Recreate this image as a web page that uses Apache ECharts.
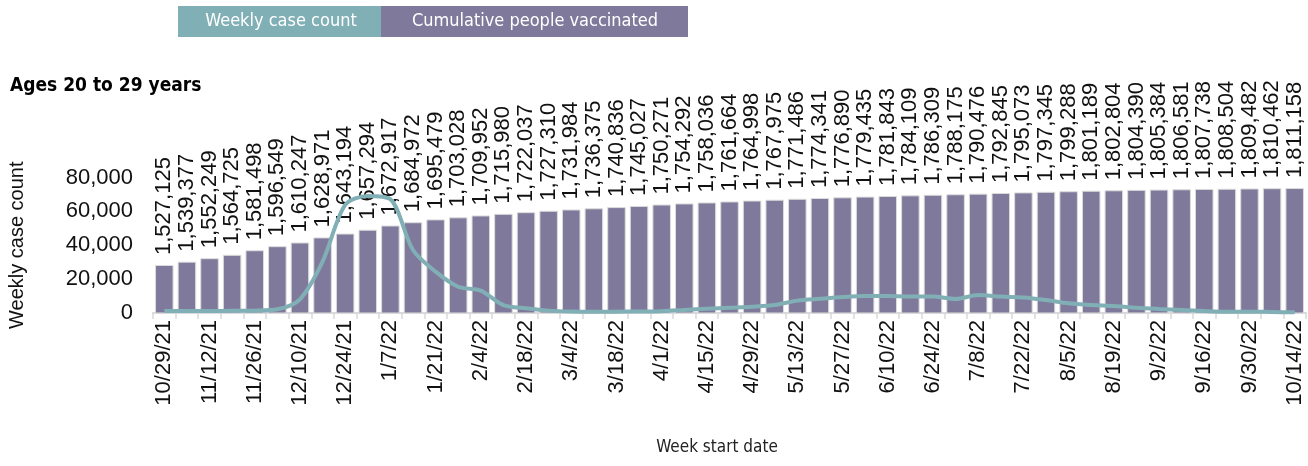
<!DOCTYPE html>
<html>
<head>
<meta charset="utf-8">
<script src="https://cdn.jsdelivr.net/npm/echarts@6/dist/echarts.min.js"></script>
<style>
html,body{margin:0;padding:0;background:#fff;}
#chart{width:1308px;height:466px;}
</style>
</head>
<body>
<div id="chart"></div>
<script>
// week start dates
var weeks = ['10/29/21','11/5/21','11/12/21','11/19/21','11/26/21','12/3/21','12/10/21','12/17/21','12/24/21','12/31/21',
	'1/7/22','1/14/22','1/21/22','1/28/22','2/4/22','2/11/22','2/18/22','2/25/22','3/4/22','3/11/22',
	'3/18/22','3/25/22','4/1/22','4/8/22','4/15/22','4/22/22','4/29/22','5/6/22','5/13/22','5/20/22',
	'5/27/22','6/3/22','6/10/22','6/17/22','6/24/22','7/1/22','7/8/22','7/15/22','7/22/22','7/29/22',
	'8/5/22','8/12/22','8/19/22','8/26/22','9/2/22','9/9/22','9/16/22','9/23/22','9/30/22','10/7/22','10/14/22'];

// cumulative people vaccinated (bars)
var vaccinated = [1527125,1539377,1552249,1564725,1581498,1596549,1610247,1628971,1643194,1657294,
	1672917,1684972,1695479,1703028,1709952,1715980,1722037,1727310,1731984,1736375,
	1740836,1745027,1750271,1754292,1758036,1761664,1764998,1767975,1771486,1774341,
	1776890,1779435,1781843,1784109,1786309,1788175,1790476,1792845,1795073,1797345,
	1799288,1801189,1802804,1804390,1805384,1806581,1807738,1808504,1809482,1810462,1811158];

// weekly case count (line)
var cases = [1200,1200,1200,1300,1400,2200,8100,30300,63800,69100,
	67100,37200,24400,15500,13200,4700,2800,1400,900,800,
	800,900,1100,1800,2500,3100,3700,4700,7300,8400,
	9400,10000,10000,9700,9700,8300,10600,9700,9200,7700,
	5700,4700,4100,3100,2400,1800,1200,800,800,600,400];

var caseTicks = {min:0, max:80000, interval:20000};

var tealColor = '#80afb6';
var purpleColor = '#7f7a9b';
var narrow = '"Liberation Sans Narrow", "DejaVu Sans Condensed", sans-serif';
var plain = '"Liberation Sans", Arial, sans-serif';

var myChart = echarts.init(document.getElementById('chart'));
var option = {
	animation: false,
	title: {
		text: 'Ages 20 to 29 years',
		left: 5,
		top: 72,
		textStyle: {fontFamily: narrow, fontSize: 19, fontWeight: 'bold', color: '#000'}
	},
	graphic: [
		{type:'rect', shape:{x:178, y:6, width:203, height:31}, style:{fill:tealColor}},
		{type:'rect', shape:{x:381, y:6, width:307, height:31}, style:{fill:purpleColor}},
		{type:'text', x:281, y:21.5, style:{text:'Weekly case count', fill:'#fff', font:'18px ' + narrow, textAlign:'center', textVerticalAlign:'middle'}},
		{type:'text', x:535, y:21.5, style:{text:'Cumulative people vaccinated', fill:'#fff', font:'18px ' + narrow, textAlign:'center', textVerticalAlign:'middle'}},
		{type:'text', x:717, y:448, style:{text:'Week start date', fill:'#222', font:'17px ' + narrow, textAlign:'center', textVerticalAlign:'middle'}}
	],
	grid: {left: 153, right: 2, top: 177.5, bottom: 153, containLabel: false, outerBoundsMode: 'none'},
	xAxis: {
		type: 'category',
		data: weeks,
		boundaryGap: true,
		axisLine: {lineStyle: {color: '#d9d9d9', width: 2}},
		axisTick: {show: true, interval: 0, length: 6, lineStyle: {color: '#d9d9d9', width: 1.5}},
		axisLabel: {interval: 1, rotate: 90, margin: 7, fontFamily: plain, fontSize: 22, color: '#111'}
	},
	yAxis: [
		{
			type: 'value',
			min: caseTicks.min, max: caseTicks.max, interval: caseTicks.interval,
			name: 'Weekly case count',
			nameLocation: 'middle',
			nameGap: 126,
			nameTextStyle: {fontFamily: plain, fontSize: 20, color: '#111'},
			splitLine: {show: false},
			axisLine: {show: false},
			axisTick: {show: false},
			axisLabel: {margin: 20, fontFamily: plain, fontSize: 22, color: '#111',
				formatter: function(v){ return v.toLocaleString('en-US'); }}
		},
		{
			type: 'value',
			min: 1350000, max: 1850000,
			show: false,
			splitLine: {show: false}
		}
	],
	series: [
		{
			name: 'Cumulative people vaccinated',
			type: 'bar',
			yAxisIndex: 1,
			data: vaccinated,
			barCategoryGap: '18%',
			itemStyle: {color: purpleColor, borderColor: '#dcdcdc', borderWidth: 1},
			label: {
				show: true,
				position: 'top',
				rotate: 90,
				align: 'left',
				verticalAlign: 'middle',
				distance: 10,
				fontFamily: plain,
				fontSize: 22,
				color: '#111',
				formatter: function(p){ return p.value.toLocaleString('en-US'); }
			},
			z: 2
		},
		{
			name: 'Weekly case count',
			type: 'line',
			yAxisIndex: 0,
			data: cases,
			smooth: 0.3,
			showSymbol: false,
			lineStyle: {color: tealColor, width: 4},
			z: 5
		}
	]
};
myChart.setOption(option);
</script>
</body>
</html>
